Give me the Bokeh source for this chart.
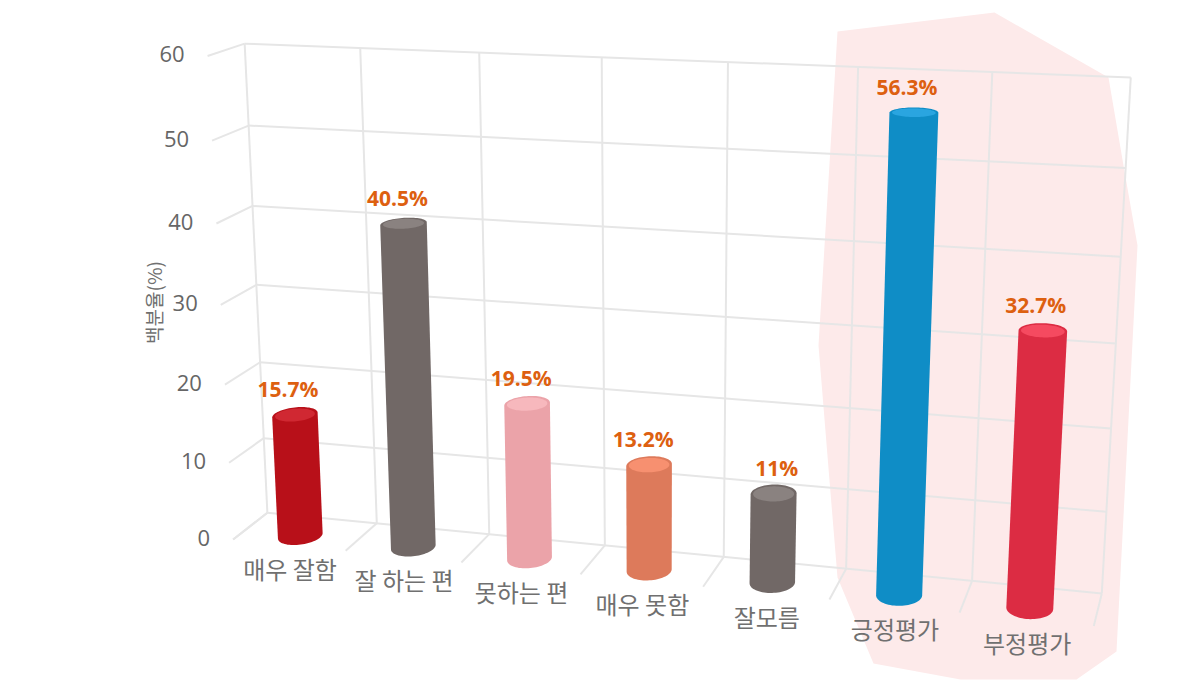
import numpy as np
from bokeh.plotting import figure
from bokeh.embed import file_html
from bokeh.resources import INLINE
from bokeh.core.properties import value

categories = ["매우 잘함", "잘 하는 편", "못하는 편", "매우 못함", "잘모름", "긍정평가", "부정평가"]
values = [15.7, 40.5, 19.5, 13.2, 11, 56.3, 32.7]
value_labels = ["15.7%", "40.5%", "19.5%", "13.2%", "11%", "56.3%", "32.7%"]
body_colors = ["#b81019", "#716866", "#eba3a9", "#dd7a5b", "#716866", "#0f8dc6", "#dc2c43"]
cap_colors = ["#d02832", "#8a8280", "#f7b8bd", "#f79070", "#8a8280", "#2aa5e0", "#f54a60"]
y_ticks = [0, 10, 20, 30, 40, 50, 60]
y_title = "백분율(%)"

# pink highlight outline, page pixels
band_x = [837, 994, 1108, 1123, 1137, 1116, 1076, 960, 873, 837, 829, 818]
band_y = [31, 12, 77, 165, 245, 651, 679, 679, 663, 577, 480, 345]

# perspective camera: (category, value, depth) -> page pixel, fitted to points
DEPTH = 0.66
cam_world = [(0,0,0),(0,60,0),(7,60,0),(7,0,0),(0,0,1),(0,60,1),(7,0,1),(3,60,0),(1,0,1),(6,0,1),
             (0.5,0,DEPTH),(5.5,0,DEPTH),(5.5,56.3,DEPTH),(6.5,32.7,DEPTH),(6.5,0,DEPTH),(1.5,40.5,DEPTH),(0.5,15.7,DEPTH)]
cam_page = [(268,512),(245,42),(1130,75),(1101,592),(233,538),(208,54),(1095,623),(601,56),(344,548),(960,610),
            (299,537),(898,596),(913,115),(1042,332),(1029,610),(402,225),(294,417)]

def fit_camera(world, page):
    A, b = [], []
    for (c, v, d), (x, y) in zip(world, page):
        A.append([c, v, d, 1, 0, 0, 0, 0, -x*c, -x*v, -x*d]); b.append(x)
        A.append([0, 0, 0, 0, c, v, d, 1, -y*c, -y*v, -y*d]); b.append(y)
    m = np.linalg.lstsq(np.array(A, float), np.array(b, float), rcond=None)[0]
    return np.append(m, 1).reshape(3, 4)

CAM = fit_camera(cam_world, cam_page)

def proj(c, v, d):
    c, v, d = np.broadcast_arrays(np.asarray(c, float), np.asarray(v, float), np.asarray(d, float))
    h = CAM @ np.stack([c, v, d, np.ones_like(c)])
    return h[0] / h[2], h[1] / h[2]

def hull(pts):
    pts = sorted(set(pts))
    def half(ps):
        out = []
        for p in ps:
            while len(out) > 1 and (out[-1][0]-out[-2][0])*(p[1]-out[-2][1]) - (out[-1][1]-out[-2][1])*(p[0]-out[-2][0]) <= 0:
                out.pop()
            out.append(p)
        return out[:-1]
    return half(pts) + half(pts[::-1])

p = figure(width=1184, height=684, x_range=(0, 1184), y_range=(684, 0), toolbar_location=None,
           output_backend="svg", min_border=0, outline_line_color=None)
p.xaxis.visible = False
p.yaxis.visible = False
p.xgrid.visible = False
p.ygrid.visible = False

p.patch(band_x, band_y, fill_color="#fdeaea", line_color=None)

GRID = "#e6e6e6"
for v in y_ticks:
    x, y = proj([0, 7], v, 0)
    p.line(x, y, line_color=GRID, line_width=2)
    x, y = proj(0, v, [0, 1])
    p.line(x, y, line_color=GRID, line_width=2)
for c in range(8):
    x, y = proj(c, [0, 60], 0)
    p.line(x, y, line_color=GRID, line_width=2)
    x, y = proj(c, 0, [0, 1])
    p.line(x, y, line_color=GRID, line_width=2)

t = np.linspace(0, 2*np.pi, 73)[:-1]
RC, RD = 0.175, 0.33
for i, val in enumerate(values):
    cc = i + 0.5
    bx, by = proj(cc + RC*np.cos(t), 0, DEPTH + RD*np.sin(t))
    tx, ty = proj(cc + RC*np.cos(t), val, DEPTH + RD*np.sin(t))
    h = hull(list(zip(bx.tolist(), by.tolist())) + list(zip(tx.tolist(), ty.tolist())))
    p.patch([q[0] for q in h], [q[1] for q in h], fill_color=body_colors[i], line_color=None)
    kx, ky = proj(cc + RC*0.9*np.cos(t), val, DEPTH + RD*0.8*np.sin(t))
    p.patch(kx, ky, fill_color=cap_colors[i], line_color=None)

# category labels under the floor
lx, ly = proj(np.arange(7) + 0.5, 0, 1)
p.text(lx, ly, text=categories, text_align="center", text_baseline="middle", x_offset=1, y_offset=23,
       text_font=value("Noto Sans CJK KR"), text_font_size="24px", text_color="#707070")

# value-axis tick labels
tx, ty = proj(0, np.array(y_ticks, float), 1)
p.text(tx, ty, text=[str(v) for v in y_ticks], text_align="right", text_baseline="middle", x_offset=-23, y_offset=-2,
       text_font=value("Open Sans"), text_font_size="22px", text_color="#666666")

# data labels
dx = [-7, -6, -6, -6, 3, -7, -7]
vx, vy = proj(np.arange(7) + 0.5, np.array(values), DEPTH)
p.text(vx + np.array(dx), vy, text=value_labels, text_align="center", text_baseline="middle", y_offset=-26,
       text_font=value("Open Sans"), text_font_style="bold", text_font_size="21px", text_color="#dd6010")

p.text([153], [302], text=[y_title], angle=np.pi/2, text_align="center", text_baseline="middle",
       text_font=value("Noto Sans CJK KR"), text_font_size="19px", text_color="#707070")

open("out.html", "w").write(file_html(p, INLINE))
